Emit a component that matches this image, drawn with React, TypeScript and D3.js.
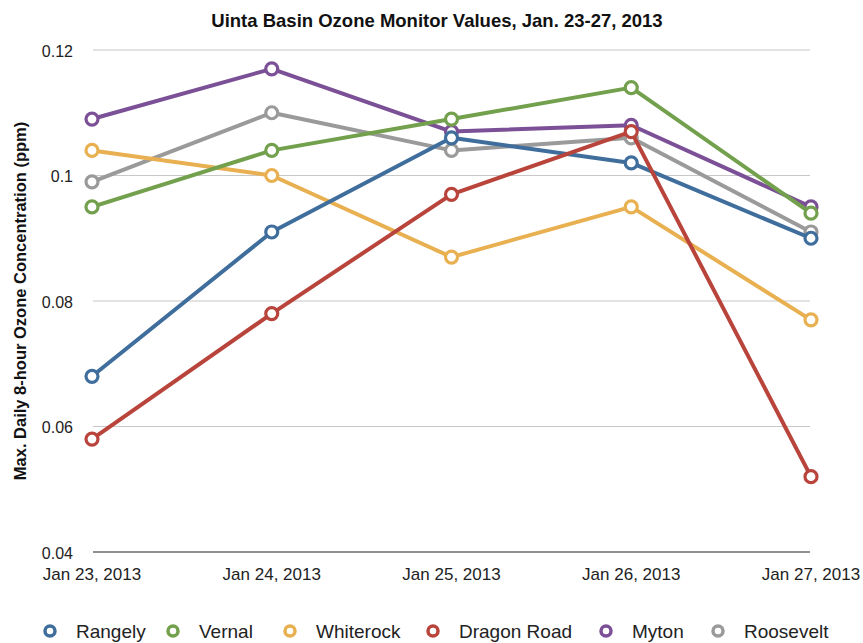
import React from "react";
import * as d3 from "d3";

const dates = ["Jan 23, 2013", "Jan 24, 2013", "Jan 25, 2013", "Jan 26, 2013", "Jan 27, 2013"];
const yTicks = [0.04, 0.06, 0.08, 0.1, 0.12];
const seriesNames = ["Rangely", "Vernal", "Whiterock", "Dragon Road", "Myton", "Roosevelt"];
const seriesColors = ["#3f6e9c", "#72a04c", "#e8b050", "#b8443b", "#7b5096", "#9a9a9a"];
const rangely = [0.068, 0.091, 0.106, 0.102, 0.090];
const vernal = [0.095, 0.104, 0.109, 0.114, 0.094];
const whiterock = [0.104, 0.100, 0.087, 0.095, 0.077];
const dragonRoad = [0.058, 0.078, 0.097, 0.107, 0.052];
const myton = [0.109, 0.117, 0.107, 0.108, 0.095];
const roosevelt = [0.099, 0.110, 0.104, 0.106, 0.091];
const seriesValues = [rangely, vernal, whiterock, dragonRoad, myton, roosevelt];
// draw order (back to front)
const drawOrder = [5, 4, 2, 1, 0, 3];

const W = 863;
const H = 643;
const font = "'Liberation Sans', Arial, sans-serif";

export default function App() {
  const x = d3.scalePoint<string>().domain(dates).range([92, 811]);
  const y = d3.scaleLinear().domain([0.04, 0.12]).range([552, 50]);
  const line = d3
    .line<number>()
    .x((_, i) => x(dates[i]) as number)
    .y((d) => y(d));

  const legendX = [50, 173, 290, 433, 606, 718];

  return (
    <svg
      width={W}
      height={H}
      style={{ position: "absolute", left: 0, top: 0, background: "#fff" }}
      fontFamily={font}
    >
      <rect width={W} height={H} fill="#fff" />
      <text x={437} y={27} textAnchor="middle" fontSize={18.5} fontWeight="bold" fill="#111">
        Uinta Basin Ozone Monitor Values, Jan. 23-27, 2013
      </text>
      {yTicks.map((t) => (
        <g key={t}>
          <line
            x1={93}
            x2={810}
            y1={y(t)}
            y2={y(t)}
            stroke={t === 0.04 ? "#222" : "#c8c8c8"}
            strokeWidth={1.2}
          />
          <text x={73} y={y(t) + 6.5} textAnchor="end" fontSize={16} fill="#222">
            {d3.format("")(t)}
          </text>
        </g>
      ))}
      {dates.map((d) => (
        <text key={d} x={x(d)} y={580} textAnchor="middle" fontSize={17} fill="#222">
          {d}
        </text>
      ))}
      <text
        transform={`translate(26, 301) rotate(-90)`}
        textAnchor="middle"
        fontSize={16.5}
        fontWeight="bold"
        fill="#111"
      >
        Max. Daily 8-hour Ozone Concentration (ppm)
      </text>
      {drawOrder.map((si) => (
        <g key={seriesNames[si]}>
          <path
            d={line(seriesValues[si]) || ""}
            fill="none"
            stroke={seriesColors[si]}
            strokeWidth={4}
            strokeLinejoin="round"
          />
          {seriesValues[si].map((v, i) => (
            <circle
              key={i}
              cx={x(dates[i])}
              cy={y(v)}
              r={6}
              fill="#fff"
              stroke={seriesColors[si]}
              strokeWidth={3.2}
            />
          ))}
        </g>
      ))}
      {seriesNames.map((n, i) => (
        <g key={n}>
          <circle cx={legendX[i]} cy={631} r={5} fill="#fff" stroke={seriesColors[i]} strokeWidth={3.5} />
          <text x={legendX[i] + 26} y={637.5} fontSize={19} fill="#222">
            {n}
          </text>
        </g>
      ))}
    </svg>
  );
}
